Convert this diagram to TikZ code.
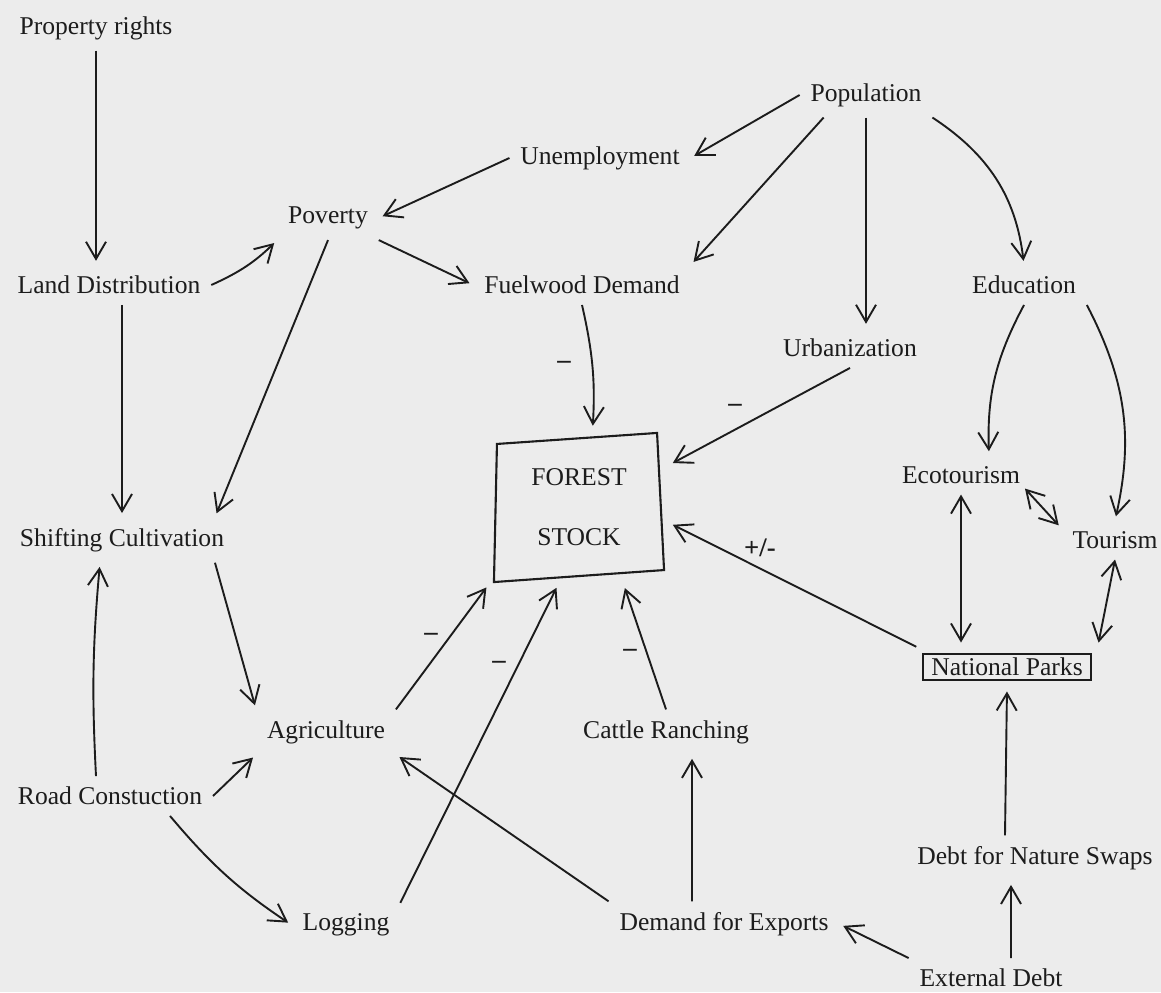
\documentclass[tikz,border=0pt]{standalone}
\usepackage{fontspec}
\setmainfont{Liberation Serif}
\usetikzlibrary{arrows.meta}

\definecolor{scan}{RGB}{236,236,236}
\definecolor{ink}{RGB}{28,28,28}

\tikzstyle{cld_style}=[->,>={Straight Barb[length=4.3mm,width=5mm]},shorten >=3pt,
  line width=1.35pt, color=ink, x=0.025cm, y=-0.025cm,
  factor/.style={inner sep=0.25cm,font=\fontsize{18.2}{22}\selectfont},
  stock/.style={factor,outer sep=5pt,minimum width=4.15cm,minimum height=3.5cm,align=center},
  policy/.style={factor,draw,line width=1.2pt,outer sep=5pt,inner xsep=0.2cm,inner ysep=3pt},
  sign/.style={inner sep=1pt,font=\fontsize{19}{22}\selectfont\bfseries},
  twoway/.style={<->},]

\begin{document}
\begin{tikzpicture}[cld_style]

    \useasboundingbox (0,0) rectangle (1161,992);
    \fill[scan] (0,0) rectangle (1161,992);

    % Draw the factors
    \node[factor] (prop) at (96,28) {Property rights};
    \node[factor] (land) at (109,285) {Land Distribution};
    \node[factor] (shift) at (122,540) {Shifting Cultivation};
    \node[factor] (road) at (110,796) {Road Constuction};
    \node[factor] (pov) at (328,218) {Poverty};
    \node[factor] (unemp) at (600,158) {Unemployment};
    \node[factor] (fuel) at (582,285) {Fuelwood Demand};
    \node[factor] (pop) at (866,95) {Population};
    \node[factor] (urb) at (850,348) {Urbanization};
    \node[factor] (edu) at (1024,285) {Education};
    \node[factor] (eco) at (961,475) {Ecotourism};
    \node[factor] (tour) at (1115,540) {Tourism};
    \node[factor] (agri) at (326,732) {Agriculture};
    \node[factor] (cattle) at (666,732) {Cattle Ranching};
    \node[factor] (log) at (346,925) {Logging};
    \node[factor] (exp) at (724,924) {Demand for Exports};
    \node[factor] (swap) at (1035,858) {Debt for Nature Swaps};
    \node[factor] (ext) at (991,978) {External Debt};

    % The stock (hand drawn box) and the parks box
    \node[stock] (forest) at (579,507) {FOREST\\[21pt]STOCK};
    \draw[-,line width=1.5pt] ([shift={(8,14)}]forest.north west) -- ([shift={(-12,3)}]forest.north east)
        -- ([shift={(-5,-14)}]forest.south east) -- ([shift={(5,-2)}]forest.south west) -- cycle;
    \node[policy] (np) at (1007,667) {National Parks};

    % Signs on the links into the stock
    \node[sign] (s-fuel) at (564,365) {--};
    \node[sign] (s-urb) at (735,408) {--};
    \node[sign] (s-np) at (760,548) {+/-};
    \node[sign] (s-agri) at (431,637) {--};
    \node[sign] (s-log) at (499,665) {--};
    \node[sign] (s-cattle) at (630,653) {--};

    % Left column
    \path (prop.south) edge (prop.south |- land.north);
    \path (land.east) edge[bend right=10] (pov.south west);
    \path (land.south -| shift.north) edge (shift.north);
    \path ([xshift=-0.35cm]road.north) edge[bend left=4] ([xshift=-0.55cm]shift.south);
    \path ([xshift=-0.5cm]shift.south east) edge (agri.north west);
    \path (road.east) edge (agri.south west);
    \path ([xshift=1.5cm]road.south) edge[bend right=8] (log.west);

    % Poverty and population
    \path (pov.south) edge ([xshift=-0.5cm]shift.north east);
    \path (pov.south east) edge (fuel.west);
    \path (unemp.west) edge (pov.east);
    \path (pop.west) edge (unemp.east);
    \path ([xshift=0.6cm]pop.south west) edge (fuel.north east);
    \path (pop.south) edge (pop.south |- urb.north);
    \path (pop.south east) edge[bend left=25] (edu.north);

    % Everything that acts on the forest stock
    \path (fuel.south) edge[bend left=8] (forest.80);
    \path (urb.south) edge (forest.25);
    \path (np.north west) edge (forest.-10);
    \path (agri.north east) edge (forest.south west);
    \path (log.north east) edge (forest.-105);
    \path (cattle.north) edge (forest.-60);

    % Tourism loop
    \path (edu.south) edge[bend right=15] ([xshift=0.7cm]eco.north);
    \path (edu.south east) edge[bend left=20] (tour.north);
    \path ([shift={(-6,-6)}]eco.south east) edge[twoway] ([shift={(0,8)}]tour.north west);
    \path (eco.south) edge[twoway] (eco.south |- np.north);
    \path (tour.south) edge[twoway] (np.north east);

    % Exports and debt
    \path (exp.north west) edge (agri.south east);
    \path ([xshift=-0.8cm]exp.north) edge ([xshift=0.65cm]cattle.south);
    \path (ext.north west) edge (exp.east);
    \path ([xshift=0.5cm]ext.north) edge ([xshift=-0.6cm]swap.south);
    \path ([xshift=-0.75cm]swap.north) edge (np.south);

\end{tikzpicture}
\end{document}
